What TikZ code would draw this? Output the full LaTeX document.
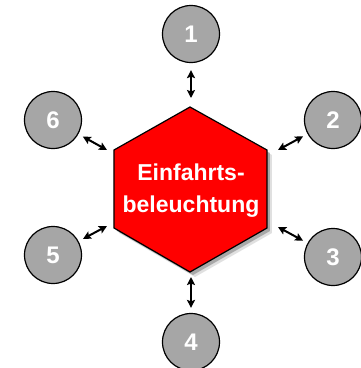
\documentclass[tikz,border=0pt]{standalone}
\usepackage{fontspec}
\setmainfont{Liberation Sans}
\usetikzlibrary{arrows.meta}
\definecolor{hexred}{RGB}{255,0,0}
\definecolor{circgray}{RGB}{166,166,166}
\begin{document}
\begin{tikzpicture}[x=1pt,y=-1pt,
  numcirc/.style={circle,draw=black,line width=1.2pt,fill=circgray,minimum size=57pt,inner sep=0pt,
    text=white,font=\fontsize{24}{24}\selectfont\bfseries},
  arr/.style={{Stealth[length=8pt,width=8pt,inset=1.5pt]}-{Stealth[length=8pt,width=8pt,inset=1.5pt]},line width=2pt,black},
  hexshape/.style={line width=1.2pt,draw=black,fill=hexred,line join=miter}]
\useasboundingbox (0,0) rectangle (360,368);
% hexagon corners
\coordinate (hT) at (190,107);
\coordinate (hUR) at (267,150);
\coordinate (hLR) at (267,228);
\coordinate (hB) at (190,272);
\coordinate (hLL) at (114,228);
\coordinate (hUL) at (114,150);
% shadow
\fill[black,opacity=0.12] ([shift={(5,5)}]hT) -- ([shift={(5,5)}]hUR) -- ([shift={(5,5)}]hLR) -- ([shift={(5,5)}]hB) -- ([shift={(5,5)}]hLL) -- ([shift={(5,5)}]hUL) -- cycle;
\fill[black,opacity=0.25] ([shift={(3,3)}]hT) -- ([shift={(3,3)}]hUR) -- ([shift={(3,3)}]hLR) -- ([shift={(3,3)}]hB) -- ([shift={(3,3)}]hLL) -- ([shift={(3,3)}]hUL) -- cycle;
\draw[hexshape] (hT) -- (hUR) -- (hLR) -- (hB) -- (hLL) -- (hUL) -- cycle;
\node[text=white,align=center,font=\fontsize{23}{32}\selectfont\bfseries] (hex) at (191,191) {Einfahrts-\\beleuchtung};
% circles
\node[numcirc] (c1) at (191,34) {1};
\node[numcirc] (c2) at (333,120) {2};
\node[numcirc] (c3) at (333,257) {3};
\node[numcirc] (c4) at (191,342) {4};
\node[numcirc] (c5) at (53,255) {5};
\node[numcirc] (c6) at (53,120) {6};
% arrow inner ends
\coordinate (h1) at (191,98);
\coordinate (h2) at (278,150);
\coordinate (h3) at (278,227);
\coordinate (h4) at (191,277);
\coordinate (h5) at (107,226);
\coordinate (h6) at (107,150);
\draw[arr,shorten <=7pt] (c1) -- (h1);
\draw[arr,shorten <=5pt] (c2) -- (h2);
\draw[arr,shorten <=5pt] (c3) -- (h3);
\draw[arr,shorten <=5pt] (c4) -- (h4);
\draw[arr,shorten <=5pt] (c5) -- (h5);
\draw[arr,shorten <=5pt] (c6) -- (h6);
\end{tikzpicture}
\end{document}
